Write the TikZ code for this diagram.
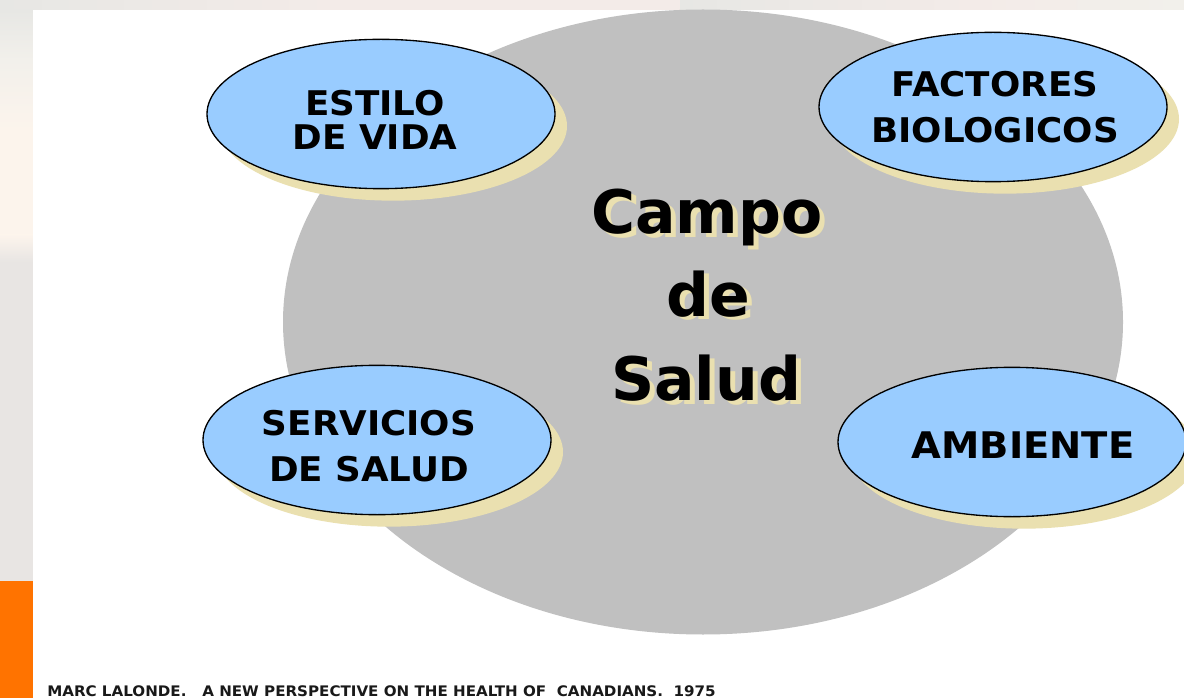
\documentclass[tikz,border=0pt]{standalone}
\usepackage{fontspec}
\setmainfont{DejaVu Sans}
\newfontfamily\labelface[FakeStretch=1.05]{DejaVu Sans}
\newfontfamily\citeface[FakeStretch=1.04]{DejaVu Sans}
\usetikzlibrary{shapes.geometric}
\definecolor{bgwash}{HTML}{E8E5E3}
\definecolor{bgcream}{HTML}{FCF4EC}
\definecolor{bgpale}{HTML}{F2F0EB}
\definecolor{bggrey}{HTML}{E7E7E4}
\definecolor{bgpink}{HTML}{F3EBE8}
\definecolor{bgorange}{HTML}{FF7300}
\definecolor{campo}{HTML}{C0C0C0}
\definecolor{skyfill}{HTML}{99CCFF}
\definecolor{shade}{HTML}{EAE0B0}
\tikzset{
  x=0.75pt,y=-0.75pt,
  factor/.style={ellipse,draw=black,line width=1pt,fill=skyfill,minimum width=261pt,minimum height=112pt,inner sep=0pt},
  factorshade/.style={ellipse,fill=shade,minimum width=261pt,minimum height=112pt,inner sep=0pt},
  factorlabel/.style={align=center,inner sep=0pt,text=black},
  bigword/.style={font=\bfseries\fontsize{45}{48}\selectfont,inner sep=0pt,text=black,anchor=base},
  bigshade/.style={bigword,text=shade}
}
\begin{document}
\begin{tikzpicture}
\useasboundingbox (0,0) rectangle (1184,698);
\fill[bgwash] (0,0) rectangle (1184,698);
% washed-out backdrop showing along the top and left edges
\fill[left color=bggrey,right color=bgpink] (0,0) rectangle (330,10);
\fill[bgpink] (330,0) rectangle (680,10);
\fill[left color=bggrey,right color=bgpink] (680,0) rectangle (970,10);
\fill[left color=bgpink,right color=bgpale] (970,0) rectangle (1184,10);
\fill[top color=bggrey,bottom color=bgpale] (0,10) rectangle (33,60);
\fill[top color=bgpale,bottom color=bgcream] (0,60) rectangle (33,130);
\fill[bgcream] (0,130) rectangle (33,235);
\fill[top color=bgcream,bottom color=bgwash] (0,235) rectangle (33,262);
\fill[bgorange] (0,581) rectangle (33,698);
\fill[white] (33,10) rectangle (1184,698);
\node[ellipse,fill=campo,minimum width=630pt,minimum height=468.75pt,inner sep=0pt] (campo) at (703,322) {};
% shadows
\node[factorshade] (s1) at (393,126) {};
\node[factorshade] (s2) at (1005,119) {};
\node[factorshade] (s3) at (389,452) {};
\node[factorshade] (s4) at (1024,454) {};
% ellipses
\node[factor] (estilo) at (381,114) {};
\node[factor] (factores) at (993,107) {};
\node[factor] (servicios) at (377,440) {};
\node[factor] (ambiente) at (1012,442) {};
% labels
\node[factorlabel,font=\labelface\bfseries\fontsize{25.5}{25.5}\selectfont] (testilo) at (375,120) {ESTILO\\DE VIDA};
\node[factorlabel,font=\labelface\bfseries\fontsize{25.5}{35}\selectfont] (tfactores) at (995,107) {FACTORES\\BIOLOGICOS};
\node[factorlabel,font=\labelface\bfseries\fontsize{25.5}{35}\selectfont] (tservicios) at (369,446) {SERVICIOS\\DE SALUD};
\node[factorlabel,font=\labelface\bfseries\fontsize{27.5}{30}\selectfont] (tambiente) at (1023,445) {AMBIENTE};
% title
\node[bigshade] (c1s) at (712,238) {Campo};
\node[bigshade] (c2s) at (713,320) {de};
\node[bigshade] (c3s) at (711,404) {Salud};
\node[bigword] (c1) at (707,234) {Campo};
\node[bigword] (c2) at (708,316) {de};
\node[bigword] (c3) at (706,400) {Salud};
% citation
\node[anchor=base west,inner sep=0pt,font=\citeface\bfseries\fontsize{10.9}{12}\selectfont,text=black!90] (cite) at (47,696) {MARC LALONDE.\ \ \ A NEW PERSPECTIVE ON THE HEALTH OF\ \ CANADIANS.\ \ 1975};
\end{tikzpicture}
\end{document}
